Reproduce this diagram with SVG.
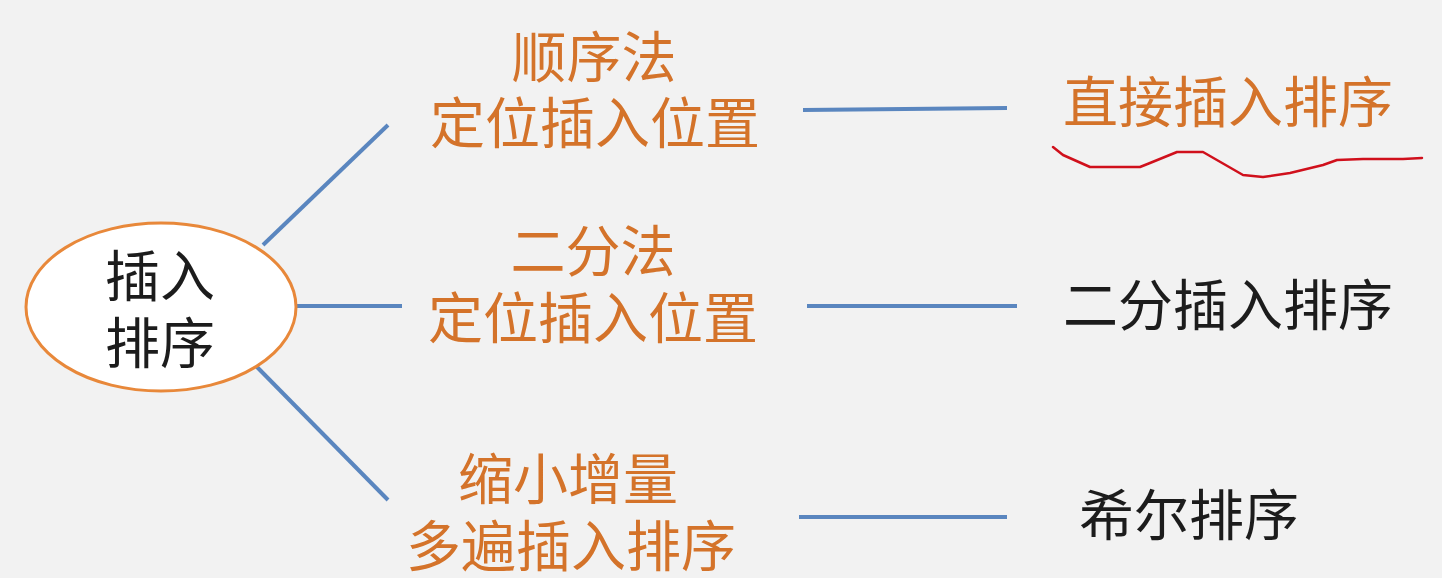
<svg xmlns="http://www.w3.org/2000/svg" width="1442" height="578" viewBox="0 0 1442 578">
<style>
.t{font-family:"Noto Sans CJK SC","Noto Sans",sans-serif;font-size:55px;text-anchor:middle}
.o{fill:#d4732a}
.k{fill:#1c1c1c}
.c{stroke:#5a86bf;stroke-width:4;fill:none;stroke-linecap:butt}
</style>
<rect width="1442" height="578" fill="#f2f2f2"/>
<g id="connectors">
<line class="c" x1="263" y1="245" x2="388" y2="125"/>
<line class="c" x1="297" y1="306" x2="402" y2="306"/>
<line class="c" x1="257" y1="367" x2="388" y2="500"/>
<line class="c" x1="803" y1="110" x2="1007" y2="108"/>
<line class="c" x1="807" y1="306" x2="1017" y2="306"/>
<line class="c" x1="799" y1="517" x2="1007" y2="517"/>
</g>
<g id="root">
<ellipse cx="161" cy="307" rx="135" ry="84" fill="#ffffff" stroke="#e8883a" stroke-width="3"/>
<text class="t k" x="160" y="296">插入</text>
<text class="t k" x="160" y="363">排序</text>
</g>
<g id="seq">
<text class="t o" x="594" y="77">顺序法</text>
<text class="t o" x="595" y="143">定位插入位置</text>
</g>
<g id="bin">
<text class="t o" x="593" y="271">二分法</text>
<text class="t o" x="593" y="338">定位插入位置</text>
</g>
<g id="shell">
<text class="t o" x="568" y="499">缩小增量</text>
<text class="t o" x="571" y="566">多遍插入排序</text>
</g>
<g id="direct">
<text class="t o" x="1228" y="122">直接插入排序</text>
<path d="M1053,147 L1063,155 L1090,167 L1140,167 L1150,163 L1177,152 L1203,152 L1243,175 L1263,177 L1290,173 L1323,165 L1337,160 L1363,159 L1403,159 L1422,158" fill="none" stroke="#d0101c" stroke-width="2.5" stroke-linejoin="round" stroke-linecap="round"/>
</g>
<g id="binsort">
<text class="t k" x="1228" y="325">二分插入排序</text>
</g>
<g id="shellsort">
<text class="t k" x="1189" y="535">希尔排序</text>
</g>
</svg>
